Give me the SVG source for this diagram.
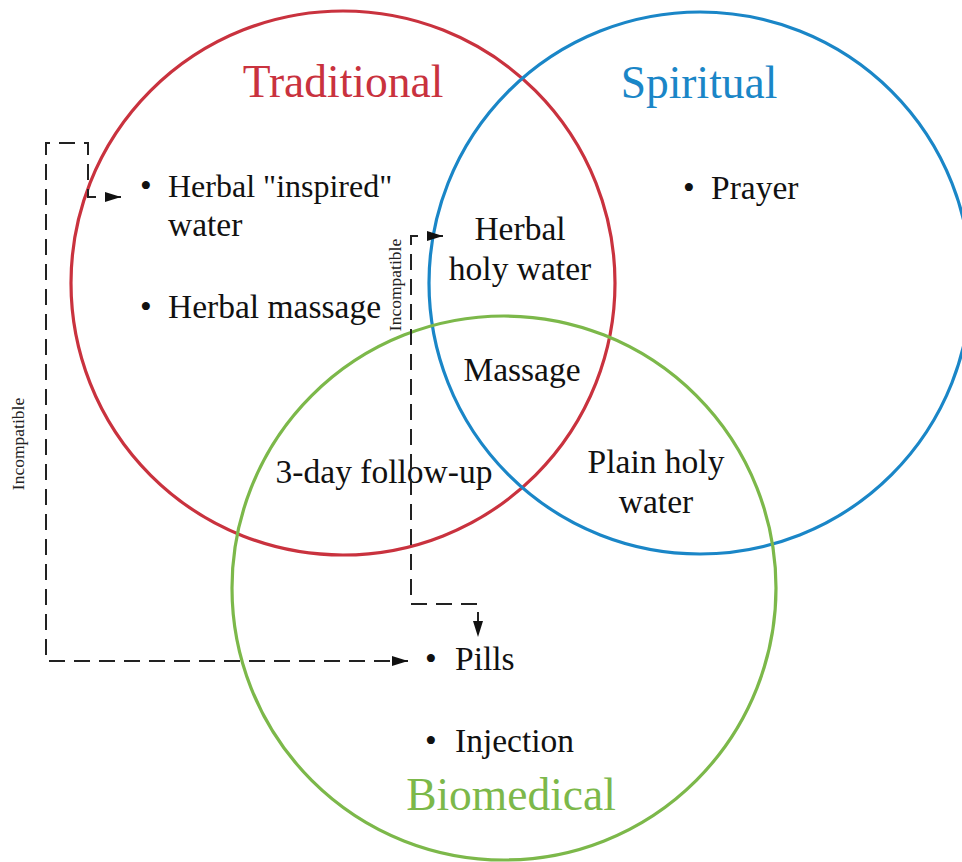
<svg xmlns="http://www.w3.org/2000/svg" width="962" height="862" viewBox="0 0 962 862">
<style>
.c{fill:none;stroke-width:3.2}
.t{font-family:"Liberation Serif","Times New Roman",serif;font-size:33.5px;fill:#111}
.q{font-size:32px}
.h{font-family:"Liberation Serif","Times New Roman",serif;font-size:45.5px;text-anchor:middle}
.m{text-anchor:middle}
.s{font-family:"Liberation Serif","Times New Roman",serif;font-size:17.5px;fill:#222;text-anchor:middle}
.d{fill:none;stroke:#222;stroke-width:2;stroke-dasharray:16 9}
</style>
<defs>
<marker id="a" viewBox="0 0 16 10" refX="16" refY="5" markerWidth="16" markerHeight="10" markerUnits="userSpaceOnUse" orient="auto-start-reverse">
<path d="M0,0 L16,5 L0,10 z" fill="#111"/>
</marker>
</defs>
<rect width="962" height="862" fill="#fff"/>
<g id="traditional">
<circle class="c" cx="343" cy="283" r="272" stroke="#c9323e"/>
<text class="h" x="343" y="97" fill="#c9323e">Traditional</text>
<text class="t" x="140" y="197">•</text>
<text class="t q" x="168" y="197">Herbal "inspired"</text>
<text class="t" x="168" y="236">water</text>
<text class="t" x="140" y="318">•</text>
<text class="t" x="168" y="318">Herbal massage</text>
</g>
<g id="spiritual">
<circle class="c" cx="700" cy="283" r="271" stroke="#1a86c7"/>
<text class="h" x="699" y="98" fill="#1a86c7">Spiritual</text>
<text class="t" x="683" y="199">•</text>
<text class="t" x="711" y="199">Prayer</text>
</g>
<g id="biomedical">
<circle class="c" cx="504" cy="588" r="272" stroke="#7cb84a"/>
<text class="h" x="511" y="810" fill="#7cb84a">Biomedical</text>
<text class="t" x="425" y="670">•</text>
<text class="t" x="455" y="670">Pills</text>
<text class="t" x="425" y="752">•</text>
<text class="t" x="455" y="752">Injection</text>
</g>
<g id="trad-spir">
<text class="t m" x="520" y="240">Herbal</text>
<text class="t m" x="520" y="280">holy water</text>
</g>
<g id="center">
<text class="t m" x="522" y="381">Massage</text>
</g>
<g id="trad-bio">
<text class="t m" x="384" y="483">3-day follow-up</text>
</g>
<g id="spir-bio">
<text class="t m" x="656" y="473">Plain holy</text>
<text class="t m" x="656" y="513">water</text>
</g>
<g id="connectors">
<path class="d" d="M121,197 H88 V143 H46 V661 H408" marker-start="url(#a)" marker-end="url(#a)"/>
<text class="s" transform="translate(24,444) rotate(-90)">Incompatible</text>
<path class="d" d="M443,236 H411 V604 H478 V637" marker-start="url(#a)" marker-end="url(#a)"/>
<text class="s" transform="translate(401,285) rotate(-90)">Incompatible</text>
</g>
</svg>
